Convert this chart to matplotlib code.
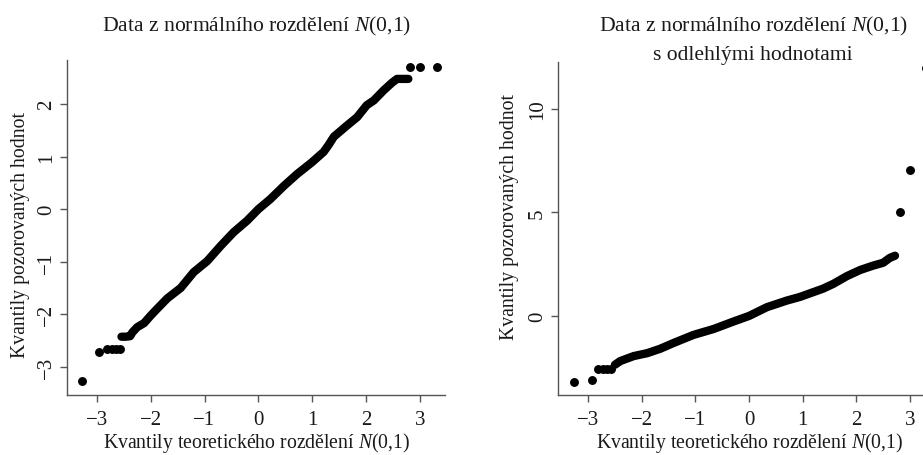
import matplotlib
matplotlib.use("Agg")
import matplotlib.pyplot as plt

plt.rcParams['font.family'] = ['Liberation Serif', 'DejaVu Serif']
plt.rcParams['mathtext.fontset'] = 'custom'
plt.rcParams['mathtext.rm'] = 'Liberation Serif'
plt.rcParams['mathtext.it'] = 'Liberation Serif:italic'
plt.rcParams['text.color'] = '#1a1a1a'

# Left panel: N(0,1) data
left_tail_x = [-3.28, -2.95, -2.80, -2.72, -2.64, -2.56, 2.82, 2.99, 3.32]
left_tail_y = [-3.28, -2.72, -2.66, -2.66, -2.66, -2.66, 2.70, 2.70, 2.71]
left_body_x = [-2.54, -2.46, -2.38, -2.34, -2.25, -2.12, -2.00, -1.88, -1.69, -1.44,
               -1.20, -0.95, -0.70, -0.46, -0.21, 0.00, 0.22, 0.47, 0.72, 0.99,
               1.21, 1.30, 1.40, 1.64, 1.83, 2.01, 2.14, 2.32, 2.48, 2.57, 2.67, 2.78]
left_body_y = [-2.43, -2.43, -2.42, -2.35, -2.25, -2.17, -2.03, -1.90, -1.70, -1.50,
               -1.20, -0.99, -0.70, -0.44, -0.22, 0.00, 0.19, 0.44, 0.67, 0.89,
               1.09, 1.22, 1.38, 1.59, 1.75, 1.98, 2.07, 2.26, 2.41, 2.48, 2.48, 2.48]

# Right panel: N(0,1) data with outliers
right_tail_x = [-3.27, -2.93, -2.81, -2.73, -2.65, -2.57, 2.82, 3.00, 3.30]
right_tail_y = [-3.17, -3.08, -2.58, -2.58, -2.58, -2.58, 5.02, 7.04, 12.0]
right_body_x = [-2.50, -2.40, -2.15, -1.90, -1.66, -1.41, -1.04, -0.66, -0.29, 0.00,
                0.33, 0.70, 0.95, 1.38, 1.57, 1.82, 2.07, 2.31, 2.50, 2.62, 2.72]
right_body_y = [-2.36, -2.18, -1.94, -1.80, -1.59, -1.31, -0.92, -0.63, -0.27, 0.00,
                0.42, 0.74, 0.92, 1.32, 1.55, 1.92, 2.22, 2.43, 2.57, 2.80, 2.91]

fig = plt.figure(figsize=(9.23, 4.56), dpi=100)
ax1 = fig.add_axes([0.0726, 0.1316, 0.4095, 0.7346])
ax2 = fig.add_axes([0.6046, 0.1316, 0.4139, 0.7302])

panels = [
    (ax1, left_tail_x, left_tail_y, left_body_x, left_body_y,
     (-3.55, 3.46), (-3.54, 2.84), [-3, -2, -1, 0, 1, 2]),
    (ax2, right_tail_x, right_tail_y, right_body_x, right_body_y,
     (-3.56, 3.56), (-3.82, 12.27), [0, 5, 10]),
]

for ax, tx, ty, bx, by, xlim, ylim, yticks in panels:
    ax.plot(bx, by, color='black', lw=6.0, solid_capstyle='round',
            solid_joinstyle='round', clip_on=False)
    ax.plot(tx, ty, 'o', color='black', ms=5.4, clip_on=False)
    ax.set_xlim(*xlim)
    ax.set_ylim(*ylim)
    ax.set_xticks([-3, -2, -1, 0, 1, 2, 3])
    ax.set_yticks(yticks)
    for s in ['top', 'right']:
        ax.spines[s].set_visible(False)
    for s in ['left', 'bottom']:
        ax.spines[s].set_color('#555555')
        ax.spines[s].set_linewidth(1.0)
    ax.tick_params(colors='#555555', labelcolor='#1a1a1a', length=5, width=1.0,
                   labelsize=15)
    ax.tick_params(axis='x', pad=6)
    ax.tick_params(axis='y', pad=3)
    plt.setp(ax.get_yticklabels(), rotation=90, va='center')

fig.text(0.2775, 0.941, 'Data z normálního rozdělení $N$(0,1)', ha='center', va='center', fontsize=15.6)
fig.text(0.816, 0.941, 'Data z normálního rozdělení $N$(0,1)', ha='center', va='center', fontsize=15.6)
fig.text(0.816, 0.879, 's odlehlými hodnotami', ha='center', va='center', fontsize=15.6)

fig.text(0.2775, 0.028, 'Kvantily teoretického rozdělení $N$(0,1)', ha='center', va='center', fontsize=14.2)
fig.text(0.812, 0.028, 'Kvantily teoretického rozdělení $N$(0,1)', ha='center', va='center', fontsize=14.2)
fig.text(0.0217, 0.485, 'Kvantily pozorovaných hodnot', rotation=90, ha='center', va='center', fontsize=14.2)
fig.text(0.5525, 0.524, 'Kvantily pozorovaných hodnot', rotation=90, ha='center', va='center', fontsize=14.2)

fig.savefig('out.png', dpi=100)
